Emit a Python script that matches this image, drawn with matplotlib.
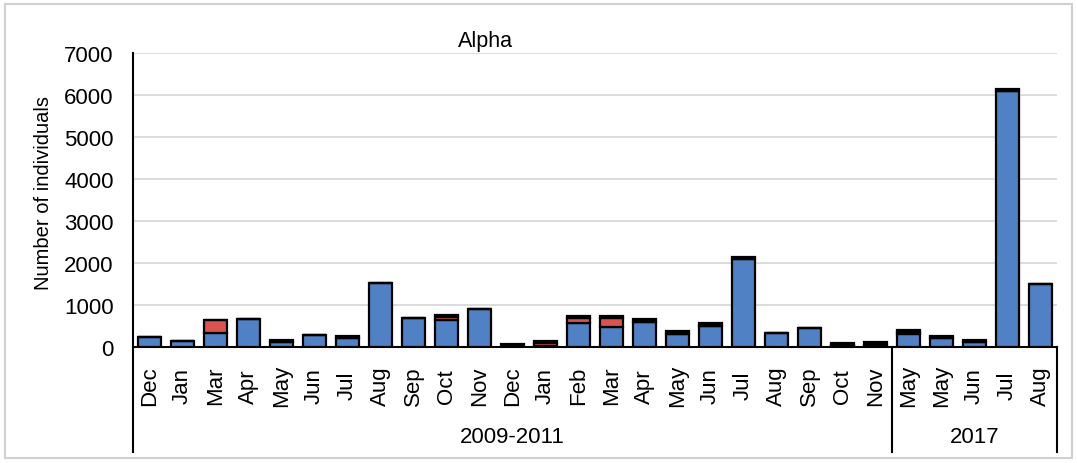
import numpy as np
import matplotlib.pyplot as plt
import matplotlib.transforms as mtransforms
from matplotlib.patches import Rectangle

plt.rcParams['font.family'] = ['Liberation Sans', 'DejaVu Sans']

months = ['Dec', 'Jan', 'Mar', 'Apr', 'May', 'Jun', 'Jul', 'Aug', 'Sep', 'Oct', 'Nov',
          'Dec', 'Jan', 'Feb', 'Mar', 'Apr', 'May', 'Jun', 'Jul', 'Aug', 'Sep', 'Oct', 'Nov',
          'May', 'May', 'Jun', 'Jul', 'Aug']
blue = [230, 140, 330, 670, 130, 280, 215, 1525, 690, 650, 905, 10, 20, 570, 475,
        590, 310, 500, 2100, 325, 445, 15, 20, 310, 205, 110, 6100, 1500]
red = [0, 0, 310, 0, 0, 0, 0, 0, 0, 70, 0, 0, 80, 120, 215,
       0, 0, 0, 0, 0, 0, 40, 0, 50, 0, 0, 0, 0]
black = [0, 0, 0, 0, 45, 0, 40, 0, 0, 40, 0, 60, 50, 40, 40,
         75, 80, 70, 40, 0, 0, 40, 110, 50, 65, 65, 50, 0]
periods = ['2009-2011', '2017']
period_sizes = [23, 5]

fig = plt.figure(figsize=(10.77, 4.64), dpi=100)
ax = fig.add_axes([133 / 1077, 116 / 464, 924 / 1077, 294 / 464])

x = np.arange(len(months))
w = 0.68
b = np.array(blue)
r = np.array(red)
k = np.array(black)
ax.bar(x, b, w, color='#4f81c4', edgecolor='black', linewidth=1.6, zorder=3)
ax.bar(x, r, w, bottom=b, color='#d9534f', edgecolor='black', linewidth=1.6, zorder=3)
ax.bar(x, k, w, bottom=b + r, color='black', edgecolor='black', linewidth=1.6, zorder=3)

ax.set_xlim(-0.5, len(months) - 0.5)
ax.set_ylim(0, 7000)
ax.set_yticks(range(0, 7001, 1000))
ax.tick_params(axis='y', length=0, labelsize=16, pad=14)
ax.set_xticks([])
ax.yaxis.grid(True, color='#d9d9d9', linewidth=1.3, zorder=0)
ax.set_axisbelow(True)
for s in ['top', 'right']:
    ax.spines[s].set_visible(False)
ax.spines['left'].set_linewidth(1.5)
ax.spines['bottom'].set_linewidth(1.5)

# month labels and period brackets below the axis
trans = mtransforms.blended_transform_factory(ax.transData, ax.transAxes)
for i, m in enumerate(months):
    ax.text(i, -0.13, m, transform=trans, rotation=90, ha='center', va='center', fontsize=16)

edges = [-0.5]
for n in period_sizes:
    edges.append(edges[-1] + n)
for e in edges:
    ax.plot([e, e], [0, -0.357], transform=trans, color='black', lw=1.5, clip_on=False)
for p, lo, hi in zip(periods, edges[:-1], edges[1:]):
    ax.text((lo + hi) / 2, -0.303, p, transform=trans, ha='center', va='center', fontsize=16)

fig.text(485 / 1077, 1 - 42 / 464, 'Alpha', ha='center', va='center', fontsize=15.5)
fig.text(44 / 1077, 1 - 193 / 464, 'Number of individuals', rotation=90,
         ha='center', va='center', fontsize=14.5)

fig.patches.append(Rectangle((5 / 1077, 5 / 464), 1067 / 1077, 454 / 464, transform=fig.transFigure,
                             fill=False, edgecolor='#d0d0d0', linewidth=1.5))

fig.savefig('out.png', dpi=100)
